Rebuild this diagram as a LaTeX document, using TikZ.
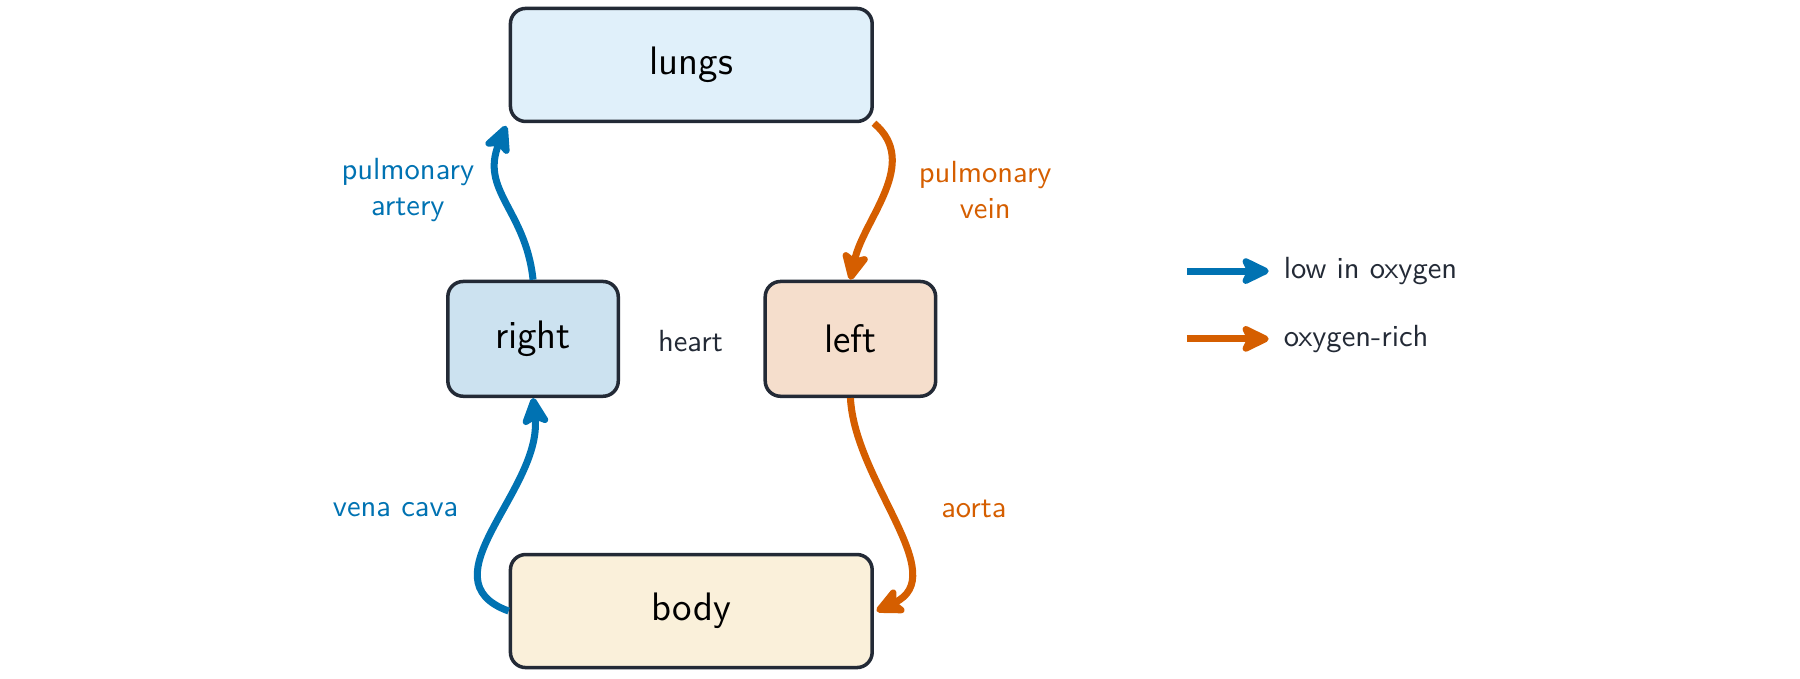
\documentclass[tikz,border=0pt]{standalone}
\usepackage{xcolor}
\usepackage{tikz}
\usetikzlibrary{arrows.meta,calc,positioning}

\definecolor{ink}{HTML}{232A36}
\definecolor{lowox}{HTML}{0072B2}
\definecolor{richox}{HTML}{D55E00}
\definecolor{lungfill}{HTML}{E0F0FA}
\definecolor{rightfill}{HTML}{CCE2F0}
\definecolor{leftfill}{HTML}{F5DECC}
\definecolor{bodyfill}{HTML}{FAF0DA}

\begin{document}
\begin{tikzpicture}[font=\sffamily,
    organ/.style={draw=ink,line width=1.15pt,rounded corners=5pt,
      minimum width=4.16cm,minimum height=1.30cm,
      font=\sffamily\fontsize{13}{15}\selectfont,text=black},
    chamber/.style={organ,minimum width=1.96cm,minimum height=1.32cm},
    vessel/.style={line width=2.3pt,
      -{Stealth[length=11pt,width=10.5pt,inset=2.5pt,round]}},
    lbl/.style={font=\sffamily\fontsize{10}{12}\selectfont,align=center}]
    \useasboundingbox (0,0) rectangle (20.7,7.797);
    \node[organ,fill=lungfill] (lungs) at (7.95,7.05) {lungs};
    \node[chamber,fill=rightfill] (right) at (6.13,3.90) {right};
    \node[chamber,fill=leftfill] (left) at (9.78,3.90) {left};
    \node[organ,fill=bodyfill] (body) at (7.95,0.77) {body};
    \node[lbl,text=ink] (heart) at (7.94,3.88) {heart};
    % blood vessels
    \draw[vessel,lowox] (right.north) to[out=96,in=-112,looseness=1.15]
      ([shift={(-0.03,-0.03)}]lungs.south west);
    \draw[vessel,richox] (lungs.south east) to[out=-40,in=78] (left.north);
    \draw[vessel,richox] (left.south) to[out=-87,in=25]
      ([shift={(0.03,0)}]body.east);
    \draw[vessel,lowox] (body.west) to[out=160,in=-84,looseness=1.1] (right.south);
    \node[lbl,text=lowox] (pa) at (4.69,5.61) {pulmonary\\artery};
    \node[lbl,text=richox] (pv) at (11.33,5.61) {pulmonary\\vein};
    \node[lbl,text=lowox] (vc) at (4.55,1.94) {vena cava};
    \node[lbl,text=richox] (ao) at (11.20,1.94) {aorta};
    % legend
    \coordinate (k1) at (13.65,4.68);
    \coordinate (k2) at (13.65,3.90);
    \draw[vessel,lowox] (k1) -- ++(0.94,0) coordinate (k1e);
    \draw[vessel,richox] (k2) -- ++(0.94,0) coordinate (k2e);
    \node[lbl,text=ink,right=0.05cm of k1e] (lowtxt) {low in oxygen};
    \node[lbl,text=ink,right=0.05cm of k2e] (richtxt) {oxygen-rich};
\end{tikzpicture}
\end{document}
